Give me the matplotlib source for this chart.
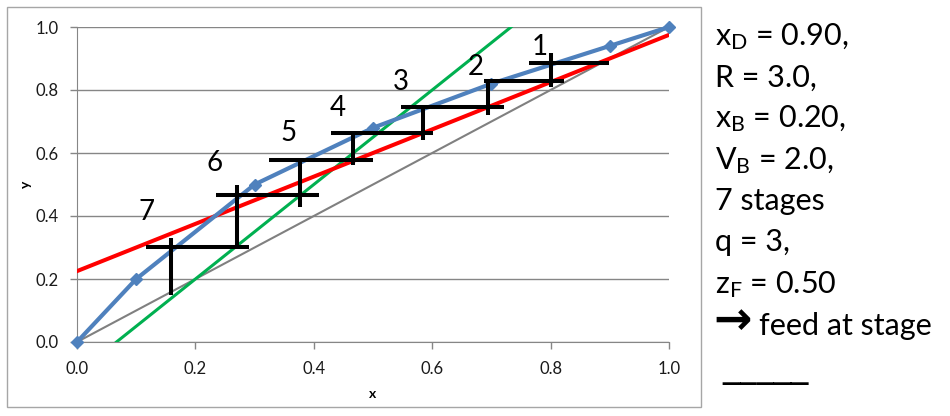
import matplotlib
matplotlib.use("Agg")
import matplotlib.pyplot as plt
from matplotlib.patches import Rectangle

plt.rcParams['font.family'] = ['Lato', 'DejaVu Sans']
plt.rcParams['mathtext.default'] = 'regular'

# equilibrium curve
eq_x = [0.0, 0.1, 0.3, 0.5, 0.7, 0.9, 1.0]
eq_y = [0.0, 0.2, 0.5, 0.68, 0.82, 0.94, 1.0]

# straight lines (end points)
diag_x = [0.0, 1.0]
diag_y = [0.0, 1.0]
rect_x = [0.0, 1.0]
rect_y = [0.225, 0.975]
strip_x = [0.0667, 0.7333]
strip_y = [0.0, 1.0]

# stage steps, top (1) to bottom (7)
stage_y = [0.885, 0.829, 0.746, 0.663, 0.578, 0.467, 0.303]
h_x0 = [0.764, 0.687, 0.547, 0.429, 0.325, 0.234, 0.116]
h_x1 = [0.899, 0.823, 0.721, 0.601, 0.500, 0.408, 0.290]
stage_x = [0.800, 0.694, 0.585, 0.467, 0.377, 0.271, 0.159]
v_y0 = [0.917, 0.832, 0.746, 0.663, 0.584, 0.500, 0.330]
v_y1 = [0.810, 0.720, 0.641, 0.562, 0.430, 0.300, 0.150]
stage_names = ['1', '2', '3', '4', '5', '6', '7']
lab_x = [0.782, 0.674, 0.547, 0.441, 0.358, 0.233, 0.118]
lab_y = [0.937, 0.874, 0.826, 0.743, 0.664, 0.568, 0.413]

notes = [r'$x_D$ = 0.90,', 'R = 3.0,', r'$x_B$ = 0.20,', r'$V_B$ = 2.0,',
         '7 stages', 'q = 3,', r'$z_F$ = 0.50']
arrow_note = 'feed at stage'

fig = plt.figure(figsize=(9.5, 4.16), dpi=100)
ax = fig.add_axes([77 / 950, 1 - 342 / 416, 592 / 950, 315 / 416])

fig.patches.append(Rectangle((7 / 950, 1 - 407 / 416), 694 / 950, 400 / 416,
                             transform=fig.transFigure, fill=False,
                             edgecolor='#a6a6a6', lw=1))

ax.plot(diag_x, diag_y, color='#808080', lw=1.5, zorder=2)
ax.plot(strip_x, strip_y, color='#00b050', lw=2.2, zorder=3)
ax.plot(rect_x, rect_y, color='#ff0000', lw=2.9, zorder=3)
ax.plot(eq_x, eq_y, color='#4f81bd', lw=3.0, marker='D', ms=6.5,
        clip_on=False, zorder=4)

for i in range(len(stage_y)):
    ax.plot([h_x0[i], h_x1[i]], [stage_y[i], stage_y[i]], color='black',
            lw=2.9, solid_capstyle='butt', zorder=5)
    ax.plot([stage_x[i], stage_x[i]], [v_y0[i], v_y1[i]], color='black',
            lw=2.9, solid_capstyle='butt', zorder=5)
    ax.text(lab_x[i], lab_y[i], stage_names[i], fontsize=20,
            ha='center', va='center', zorder=6)

ax.set_xlim(0, 1)
ax.set_ylim(0, 1)
ax.set_xticks([0, 0.2, 0.4, 0.6, 0.8, 1.0])
ax.set_yticks([0, 0.2, 0.4, 0.6, 0.8, 1.0])
ax.xaxis.set_major_formatter(plt.FormatStrFormatter('%.1f'))
ax.yaxis.set_major_formatter(plt.FormatStrFormatter('%.1f'))
ax.tick_params(axis='both', colors='#868686', labelcolor='#1a1a1a',
               labelsize=12, length=5, width=1)
ax.tick_params(axis='x', pad=8.5)
ax.tick_params(axis='y', pad=8)
ax.grid(axis='y', color='#868686', lw=1)
ax.set_axisbelow(True)
for s in ['top', 'right']:
    ax.spines[s].set_visible(False)
for s in ['left', 'bottom']:
    ax.spines[s].set_color('#868686')
ax.set_xlabel('x', fontsize=10, fontweight='bold', labelpad=8)
ax.set_ylabel('y', fontsize=10, fontweight='bold', labelpad=3)

# right-hand notes
for k, t in enumerate(notes):
    fig.text(715 / 950, 1 - (45 + 41.3 * k) / 416, t, fontsize=22,
             ha='left', va='baseline')
fig.text(713 / 950, 1 - 322 / 416, '\u2192', fontsize=33, fontweight='bold',
         family='DejaVu Sans', ha='left', va='center')
fig.text(759 / 950, 1 - 335 / 416, arrow_note, fontsize=22,
         ha='left', va='baseline')
fig.text(722 / 950, 1 - 377 / 416, '_____', fontsize=25,
         family='DejaVu Sans', ha='left', va='baseline')

fig.savefig('out.png', dpi=100)
